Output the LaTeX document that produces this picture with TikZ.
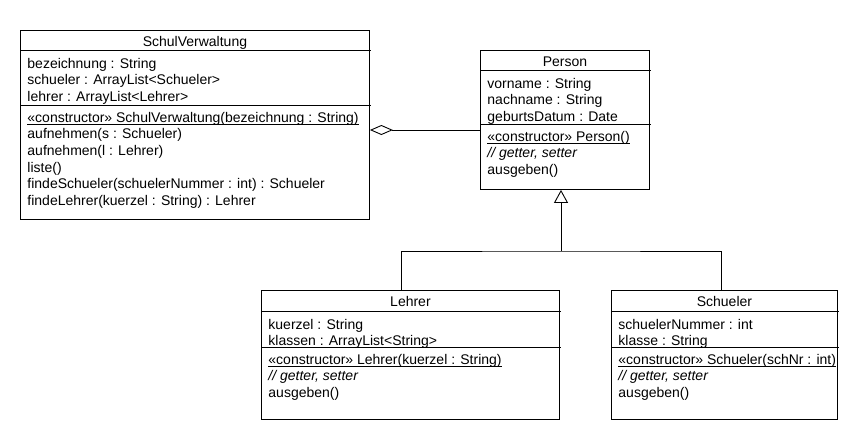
\documentclass[tikz,border=0pt]{standalone}
\usepackage{fontspec}
\setmainfont{Liberation Sans}
\usetikzlibrary{arrows.meta}
\newcommand{\ulctor}[1]{\leavevmode\setbox0\hbox{#1}\rlap{\rule[-2.2pt]{\wd0}{0.8pt}}\box0}
\begin{document}
\begin{tikzpicture}[x=1pt,y=-1pt,line width=0.9pt,
        classbox/.style={draw,rectangle,anchor=north west,inner sep=0pt},
        classname/.style={anchor=base,inner sep=0pt,font=\fontsize{14}{16.7}\selectfont},
        member/.style={anchor=north west,align=left,inner sep=0pt,font=\fontsize{14}{16.7}\selectfont},
        aggregation/.style={-{Diamond[open,length=23pt,width=10pt]}},
        inherit/.style={-{Triangle[open,length=13pt,width=14pt]}}]
        \useasboundingbox (0,0) rectangle (860,440);
        % SchulVerwaltung
        \node[classbox,minimum width=349pt,minimum height=189pt] (schul) at (20,30) {};
        \draw (20,50) -- (371,50) (20,105) -- (371,105); % compartments
        \node[classname] (schulname) at ([yshift=-16pt]schul.north) {SchulVerwaltung};
        \node[member] (schulattr) at (27,56) {\strut bezeichnung : String\\ schueler : ArrayList<Schueler>\\ lehrer : ArrayList<Lehrer>};
        \node[member] (schulop) at (27,110) {\strut\ulctor{«constructor» SchulVerwaltung(bezeichnung : String)}\\ aufnehmen(s : Schueler)\\ aufnehmen(l : Lehrer)\\ liste()\\ findeSchueler(schuelerNummer : int) : Schueler\\ findeLehrer(kuerzel : String) : Lehrer};
        % Person
        \node[classbox,minimum width=169pt,minimum height=139pt] (person) at (480,50) {};
        \draw (480,70) -- (651,70) (480,124) -- (651,124);
        \node[classname] (personname) at ([yshift=-16pt]person.north) {Person};
        \node[member] (personattr) at (487,76) {\strut vorname : String\\ nachname : String\\ geburtsDatum : Date};
        \node[member] (personop) at (487,129) {\strut\ulctor{«constructor» Person()}\\ \textit{// getter, setter}\\ ausgeben()};
        % Lehrer
        \node[classbox,minimum width=298pt,minimum height=129pt] (lehrer) at (261,290) {};
        \draw (261,311) -- (561,311) (261,347) -- (561,347);
        \node[classname] (lehrername) at ([yshift=-16pt]lehrer.north) {Lehrer};
        \node[member] (lehrerattr) at (268,317) {\strut kuerzel : String\\ klassen : ArrayList<String>};
        \node[member] (lehrerop) at (268,352) {\strut\ulctor{«constructor» Lehrer(kuerzel : String)}\\ \textit{// getter, setter}\\ ausgeben()};
        % Schueler
        \node[classbox,minimum width=226pt,minimum height=129pt] (schueler) at (611,290) {};
        \draw (611,311) -- (839,311) (611,347) -- (839,347);
        \node[classname] (schuelername) at ([yshift=-16pt]schueler.north) {Schueler};
        \node[member] (schuelerattr) at (618,317) {\strut schuelerNummer : int\\ klasse : String};
        \node[member] (schuelerop) at (618,352) {\strut\ulctor{«constructor» Schueler(schNr : int)}\\ \textit{// getter, setter}\\ ausgeben()};
        % connectors
        \coordinate (agg) at (0,130);
        \draw[aggregation] (person.west |- agg) -- (schul.east |- agg);
        \coordinate (split) at (561,251); % meeting point of the generalisation
        \coordinate (lk) at (401,0);
        \coordinate (sk) at (721,0);
        \draw[inherit] (split) -- (split |- person.south);
        \draw (lk |- lehrer.north) |- (split) -| (sk |- schueler.north);
\end{tikzpicture}
\end{document}
